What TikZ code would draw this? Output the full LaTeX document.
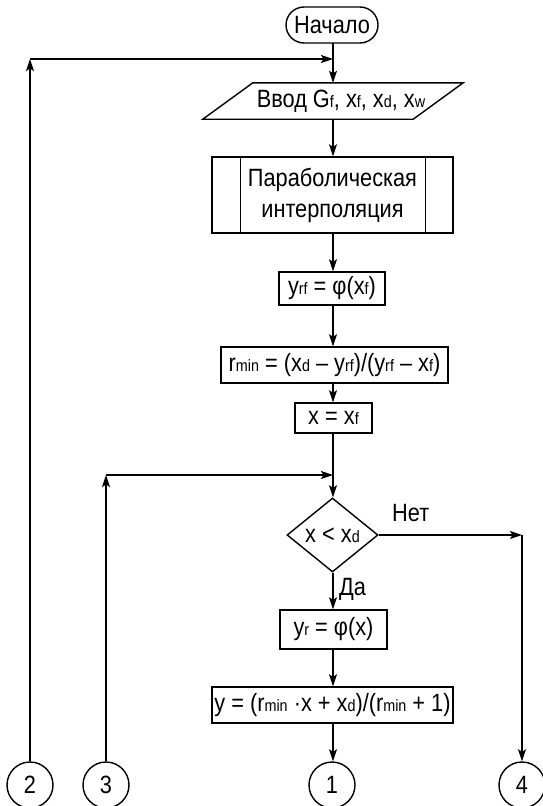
\documentclass[tikz,border=0pt]{standalone}
\usepackage{fontspec}
\setmainfont{Liberation Sans}[FakeStretch=0.87]
\usetikzlibrary{arrows.meta,shapes.geometric,calc}
\newcommand\lo[1]{{\fontsize{16.5}{16.5}\selectfont #1}}
\begin{document}
\begin{tikzpicture}[x=1pt,y=-1pt,
  every node/.style={font=\fontsize{25}{31}\selectfont, inner sep=0pt, align=center},
  line/.style={line width=1.4pt},
  arr/.style={line, -{Stealth[length=12pt,width=8pt,inset=2.5pt]}},
  box/.style={draw, line width=1.4pt, rectangle},
  conn/.style={draw, line width=1.4pt, circle, minimum size=46pt}
]
\useasboundingbox (0,0) rectangle (543,806);
% nodes
\node[draw, line width=1.4pt, rounded corners=18pt, minimum width=92pt, minimum height=36pt] (start) at (332,25) {Начало};
\node[minimum width=210pt, minimum height=36pt] (par) at (333,101) {\hspace*{16pt}Ввод G\lo{f}, x\lo{f}, x\lo{d}, x\lo{w}};
\draw[line] ([xshift=-25pt]par.south west) -- ([xshift=25pt]par.north west) -- ([xshift=25pt]par.north east) -- ([xshift=-25pt]par.south east) -- cycle;
\node[box, minimum width=241pt, minimum height=76pt] (pp) at (332.5,195) {Параболическая\\интерполяция};
\draw[line] ([xshift=29pt]pp.north west) -- ([xshift=29pt]pp.south west);
\draw[line] ([xshift=-28pt]pp.north east) -- ([xshift=-28pt]pp.south east);
\node[box, minimum width=106pt, minimum height=33pt] (yrf) at (332,288.5) {y\lo{rf} = φ(x\lo{f})};
\node[box, minimum width=227pt, minimum height=36pt] (rmin) at (334.5,365) {r\lo{min} = (x\lo{d} – y\lo{rf})/(y\lo{rf} – x\lo{f})};
\node[box, minimum width=77pt, minimum height=30pt] (xeq) at (333.5,418) {x = x\lo{f}};
\node[draw, line width=1.4pt, diamond, aspect=1.23, minimum width=91pt, minimum height=74pt] (dia) at (332.5,535) {x < x\lo{d}};
\node[box, minimum width=107pt, minimum height=39pt] (yr) at (333.5,629.5) {y\lo{r} = φ(x)};
\node[box, minimum width=241pt, minimum height=36pt] (yeq) at (332.5,705) {y = (r\lo{min} ·x + x\lo{d})/(r\lo{min} + 1)};
\node[conn] (c2) at (30,785) {2};
\node[conn] (c3) at (106,785) {3};
\node[conn] (c1) at (332,785) {1};
\node[conn] (c4) at (522,785) {4};
\node[anchor=west] (net) at (392,513) {Нет};
\node[anchor=west] (da) at (339,589) {Да};
% junctions
\coordinate (j1) at (333,59);
\coordinate (j2) at (333,475);
\coordinate (j3) at (522,535);
% connectors
\draw[line] (start.south) -- (start.south -| j1) -- (j1);
\draw[arr] (j1) -- (j1 |- par.north);
\draw[arr] (c2.north) -- (c2.north |- j1);
\draw[arr] (c2.north |- j1) -- (j1);
\draw[arr] (j1 |- par.south) -- (j1 |- pp.north);
\draw[arr] (j1 |- pp.south) -- (j1 |- yrf.north);
\draw[arr] (j1 |- yrf.south) -- (j1 |- rmin.north);
\draw[arr] (j1 |- rmin.south) -- (j1 |- xeq.north);
\draw[line] (j1 |- xeq.south) -- (j2);
\draw[arr] (j2) -- (j2 |- dia.north);
\draw[arr] (c3.north) -- (c3.north |- j2);
\draw[arr] (c3.north |- j2) -- (j2);
\draw[arr] (dia.east) -- (j3);
\draw[arr] (j3) -- (c4.north);
\draw[arr] (j1 |- dia.south) -- (j1 |- yr.north);
\draw[arr] (j1 |- yr.south) -- (j1 |- yeq.north);
\draw[arr] (j1 |- yeq.south) -- (j1 |- c1.north);
\end{tikzpicture}
\end{document}
